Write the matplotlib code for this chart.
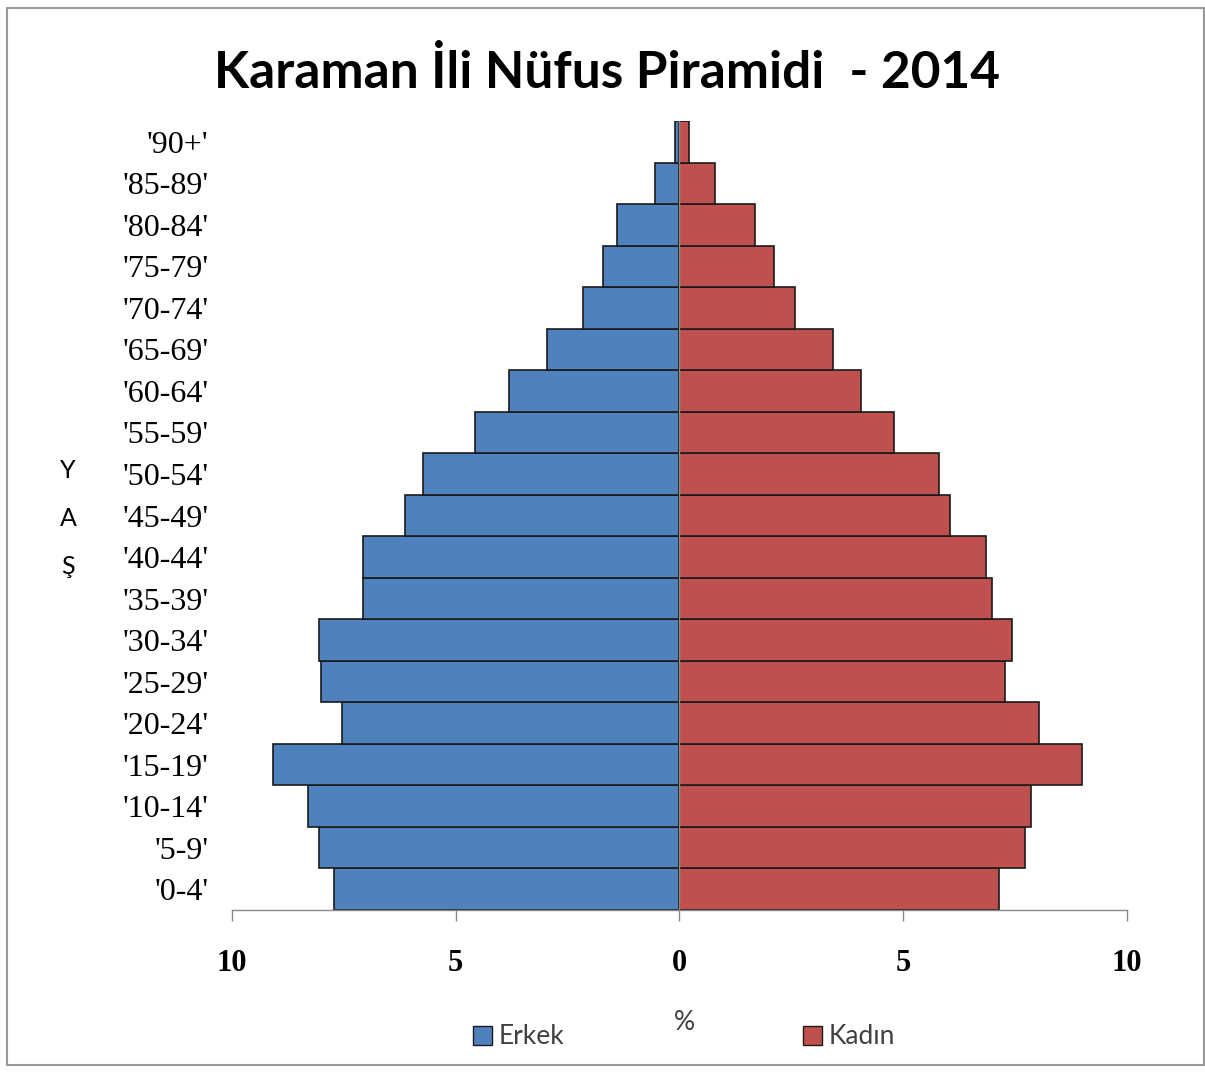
import matplotlib
matplotlib.use("Agg")
import matplotlib.pyplot as plt
from matplotlib.patches import Rectangle, Patch
import numpy as np

age_groups = ["'0-4'", "'5-9'", "'10-14'", "'15-19'", "'20-24'", "'25-29'", "'30-34'",
              "'35-39'", "'40-44'", "'45-49'", "'50-54'", "'55-59'", "'60-64'",
              "'65-69'", "'70-74'", "'75-79'", "'80-84'", "'85-89'", "'90+'"]
erkek = [7.72, 8.05, 8.3, 9.08, 7.54, 8.0, 8.05, 7.07, 7.07, 6.13, 5.73, 4.57, 3.8,
         2.95, 2.15, 1.7, 1.4, 0.55, 0.1]
kadin = [7.14, 7.72, 7.85, 9.0, 8.03, 7.27, 7.43, 6.98, 6.85, 6.05, 5.8, 4.8, 4.06,
         3.43, 2.58, 2.11, 1.69, 0.79, 0.21]
xticks = [-10, -5, 0, 5, 10]
xtick_labels = ["10", "5", "0", "5", "10"]

blue = "#4F81BD"
red = "#C0504D"

fig = plt.figure(figsize=(12.05, 10.73), dpi=100)
ax = fig.add_axes([0.1925, 0.1519, 0.7428, 0.7353])

y = np.arange(len(age_groups))
ax.barh(y, [-v for v in erkek], height=1.0, color=blue, edgecolor="#1a1a1a", linewidth=1.2, zorder=2)
ax.barh(y, kadin, height=1.0, color=red, edgecolor="#1a1a1a", linewidth=1.2, zorder=2)
ax.axvline(0, color="#888888", linewidth=1, zorder=3)

ax.set_xlim(-10, 10)
ax.set_ylim(-0.5, len(age_groups) - 0.5)
ax.set_xticks(xticks)
ax.set_xticklabels(xtick_labels, fontsize=22, fontweight="bold", family="Liberation Serif")
ax.set_yticks(y)
ax.set_yticklabels(age_groups, fontsize=23, family="Liberation Serif")
ax.tick_params(axis="y", length=0, pad=17)
ax.tick_params(axis="x", length=8, width=1, color="#888888", direction="out", pad=20)
for s in ["top", "right", "left"]:
    ax.spines[s].set_visible(False)
ax.spines["bottom"].set_color("#888888")
ax.spines["bottom"].set_linewidth(1)

fig.text(0.504, 0.932, "Karaman İli Nüfus Piramidi  - 2014", ha="center", va="center",
         fontsize=37, fontweight="bold", family="Lato")
for letter, yy in zip(["Y", "A", "Ş"], [470, 518, 566]):
    fig.text(68 / 1205, 1 - yy / 1073, letter, ha="center", va="center", fontsize=18, family="Lato")
fig.text(684 / 1205, 1 - 1022 / 1073, "%", ha="center", va="center", fontsize=19, family="Lato", color="#404040")

handles = [Patch(facecolor=blue, edgecolor="#1a1a1a"), Patch(facecolor=red, edgecolor="#1a1a1a")]
fig.legend(handles, ["Erkek", "Kadın"], loc="center", bbox_to_anchor=(684 / 1205, 1 - 1037 / 1073),
           ncol=2, frameon=False, prop={"family": "Lato", "size": 19},
           handlelength=0.7, handleheight=0.7, handletextpad=0.25, columnspacing=9.05,
           labelcolor="#404040")

fig.patches.append(Rectangle((7 / 1205, 8 / 1073), 1 - 7 / 1205 - 1 / 1205, 1 - 16 / 1073,
                             transform=fig.transFigure, fill=False, edgecolor="#999999", linewidth=1.5))

fig.savefig("out.png", dpi=100, facecolor="white")
